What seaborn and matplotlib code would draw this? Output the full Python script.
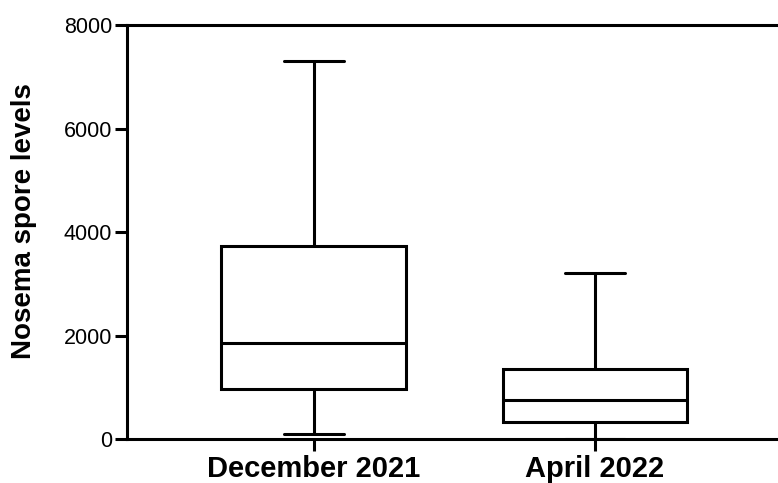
import pandas as pd
import matplotlib as mpl
import matplotlib.pyplot as plt
import seaborn as sns

mpl.use('Agg')

# Box summaries (min, Q1, median, Q3, max)
groups = ['December 2021', 'April 2022']
dec_2021 = [100, 965, 1855, 3730, 7310]
apr_2022 = [0, 335, 765, 1365, 3220]
y_ticks = [0, 2000, 4000, 6000, 8000]

df = pd.DataFrame({
    'group': [groups[0]] * len(dec_2021) + [groups[1]] * len(apr_2022),
    'value': dec_2021 + apr_2022,
})

sns.set_style('ticks')
plt.rcParams['font.family'] = ['Liberation Sans', 'DejaVu Sans']

lw = 2.2
fig = plt.figure(figsize=(7.78, 4.83), dpi=100)
ax = fig.add_axes([0.1632, 0.0905, 1 - 0.1632, 0.8575])

sns.boxplot(data=df, x='group', y='value', order=groups, whis=(0, 100),
            width=0.658, capwidths=0.214, color='white', linecolor='black',
            linewidth=lw, ax=ax)

ax.set_ylim(0, 8000)
ax.set_xlim(-0.665, 1.651)
ax.set_yticks(y_ticks)
ax.set_ylabel('Nosema spore levels', fontsize=20, fontweight='bold',
              labelpad=19, color='black', y=0.527)
ax.set_xlabel('')

for s in ['left', 'bottom', 'top']:
    ax.spines[s].set_linewidth(lw)
    ax.spines[s].set_color('black')
ax.spines['right'].set_visible(False)

ax.tick_params(axis='y', length=8.6, width=lw, labelsize=15.5, pad=2, colors='black')
ax.tick_params(axis='x', length=8.6, width=lw, labelsize=21, pad=3, colors='black')
for lab in ax.get_xticklabels():
    lab.set_fontweight('bold')

fig.savefig('out.png', dpi=100)
